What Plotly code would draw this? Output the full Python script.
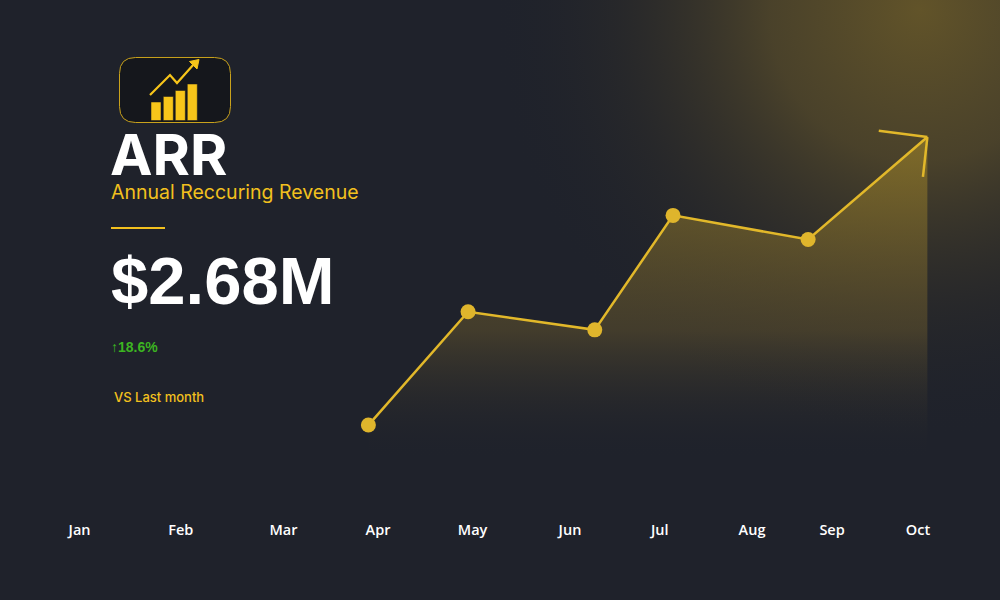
import base64
import math
import plotly.graph_objects as go

# months shown along the bottom and where each label sits (month units)
months = ["Jan", "Feb", "Mar", "Apr", "May", "Jun", "Jul", "Aug", "Sep", "Oct"]
month_pos = [0, 1.086, 2.189, 3.203, 4.218, 5.264, 6.227, 7.218, 8.077, 9.0]

# ARR points ($M) and where they fall on the month scale
point_x = [3.10, 4.17, 5.53, 6.37, 7.82, 9.10]
arr_musd = [0.29, 1.23, 1.08, 2.03, 1.83, 2.68]

headline = "$2.68M"
change_pct = 18.6

W, H = 1000, 600
BOTTOM = 82
PLOT_H = H - BOTTOM
X_SCALE = 93.16   # px per month
Y_SCALE = 120.5   # px per $M
X0_PX = 79.6      # px of month 0
Y0_PX = 460       # px of $0

BG = "#1f222b"
GOLD = "#e2b82a"
TEXT_GOLD = "#f2c01e"


def px(x, y):
    # pixel position -> paper coords
    return x / W, (PLOT_H - y) / PLOT_H


fig = go.Figure()

# soft glow in the top right corner
svg = (
    '<svg xmlns="http://www.w3.org/2000/svg" width="1000" height="600">'
    '<defs><radialGradient id="g" cx="920" cy="10" r="430" gradientUnits="userSpaceOnUse">'
    '<stop offset="0" stop-color="#655629" stop-opacity="0.95"/>'
    '<stop offset="0.35" stop-color="#584c2a" stop-opacity="0.75"/>'
    '<stop offset="0.7" stop-color="#3a3528" stop-opacity="0.3"/>'
    '<stop offset="1" stop-color="#1f222b" stop-opacity="0"/>'
    '</radialGradient></defs>'
    '<rect width="1000" height="600" fill="url(#g)"/></svg>'
)
glow_src = "data:image/svg+xml;base64," + base64.b64encode(svg.encode()).decode()
fig.add_layout_image(dict(
    source=glow_src, xref="paper", yref="paper", x=0, y=1,
    sizex=1, sizey=H / PLOT_H, xanchor="left", yanchor="top",
    sizing="stretch", layer="below",
))

# area + line
fig.add_trace(go.Scatter(
    x=point_x, y=arr_musd,
    mode="lines",
    line=dict(color=GOLD, width=2.5),
    fill="tozeroy",
    fillgradient=dict(
        type="vertical",
        start=0, stop=max(arr_musd),
        colorscale=[[0, "rgba(31,34,43,0)"], [0.4, "rgba(110,92,45,0.45)"], [1, "rgba(150,125,40,0.68)"]],
    ),
    hoverinfo="skip",
    showlegend=False,
))

# markers (all but the arrow tip)
fig.add_trace(go.Scatter(
    x=point_x[:-1], y=arr_musd[:-1],
    mode="markers",
    marker=dict(color="#dfb52c", size=15),
    text=[f"${v:.2f}M" for v in arr_musd[:-1]],
    hoverinfo="text",
    showlegend=False,
))

# open arrowhead at the last point, built from the last segment direction
tx, ty = point_x[-1], arr_musd[-1]
dx_px = (point_x[-1] - point_x[-2]) * X_SCALE
dy_px = -(arr_musd[-1] - arr_musd[-2]) * Y_SCALE
back = math.atan2(-dy_px, -dx_px)
for rot, length in [(math.radians(48), 49), (math.radians(-43), 40)]:
    a = back + rot
    ex = tx + length * math.cos(a) / X_SCALE
    ey = ty - length * math.sin(a) / Y_SCALE
    fig.add_trace(go.Scatter(
        x=[tx, ex], y=[ty, ey], mode="lines",
        line=dict(color=GOLD, width=2.5),
        hoverinfo="skip", showlegend=False,
    ))

shapes = []

# icon box with rounded corners
bx0, by0, bx1, by1, r = 119.5, 57.5, 230.5, 122.5, 16


def P(x, y):
    a, b = px(x, y)
    return f"{a:.5f},{b:.5f}"


box_path = (
    f"M {P(bx0 + r, by0)} L {P(bx1 - r, by0)} Q {P(bx1, by0)} {P(bx1, by0 + r)} "
    f"L {P(bx1, by1 - r)} Q {P(bx1, by1)} {P(bx1 - r, by1)} "
    f"L {P(bx0 + r, by1)} Q {P(bx0, by1)} {P(bx0, by1 - r)} "
    f"L {P(bx0, by0 + r)} Q {P(bx0, by0)} {P(bx0 + r, by0)} Z"
)
shapes.append(dict(type="path", xref="paper", yref="paper", path=box_path,
                   fillcolor="#15171c", line=dict(color="#c9a21c", width=1)))

# icon bars
for x0, top in [(151, 102), (163.3, 96.5), (175.3, 90.5), (187.3, 84)]:
    a0, b0 = px(x0, top)
    a1, b1 = px(x0 + 10, 120.5)
    shapes.append(dict(type="rect", xref="paper", yref="paper",
                       x0=a0, x1=a1, y0=b1, y1=b0,
                       fillcolor="#f7c51a", line=dict(color="#15171c", width=0.5)))

# icon trend arrow
trend = f"M {P(150, 95)} L {P(170, 75)} L {P(177, 83)} L {P(194, 64)}"
shapes.append(dict(type="path", xref="paper", yref="paper", path=trend,
                   line=dict(color="#f7c51a", width=2.2)))
head = f"M {P(199, 59.5)} L {P(189.5, 61.5)} L {P(197, 69)} Z"
shapes.append(dict(type="path", xref="paper", yref="paper", path=head,
                   fillcolor="#f7c51a", line=dict(color="#f7c51a", width=1)))

# short gold rule under the subtitle
a0, b0 = px(111, 228)
a1, _ = px(165, 228)
shapes.append(dict(type="line", xref="paper", yref="paper",
                   x0=a0, x1=a1, y0=b0, y1=b0,
                   line=dict(color=TEXT_GOLD, width=2)))


def label(text, x, y, size, color, family, box_h=None, **kw):
    a, b = px(x, y)
    fig.add_annotation(
        text=text, x=a, y=b, xref="paper", yref="paper",
        xanchor="left", yanchor="middle", showarrow=False,
        height=box_h, valign="middle",
        font=dict(size=size, color=color, family=family, **kw),
    )


label("<b>ARR</b>", 108, 154, 57, "#ffffff", "Inter", box_h=50)
label("Annual Reccuring Revenue", 109, 192, 19.5, TEXT_GOLD, "Inter")
label(f"<b>{headline}</b>", 109, 280, 67, "#ffffff", "Liberation Sans")
label(f"↑<b>{change_pct}%</b>", 109, 347, 14, "#3cb521", "Liberation Sans")
label("VS Last month", 112, 397, 13, TEXT_GOLD, "Inter", weight=500)

fig.update_layout(
    width=W, height=H,
    margin=dict(l=0, r=0, t=0, b=BOTTOM),
    paper_bgcolor=BG,
    plot_bgcolor="rgba(0,0,0,0)",
    shapes=shapes,
    xaxis=dict(
        range=[-X0_PX / X_SCALE, (W - X0_PX) / X_SCALE],
        tickvals=month_pos, ticktext=months,
        tickfont=dict(size=14.5, color="#ffffff", family="Open Sans", weight=600),
        ticklabelstandoff=1,
        showgrid=False, zeroline=False, showline=False, ticks="",
        fixedrange=True,
    ),
    yaxis=dict(
        range=[(Y0_PX - PLOT_H) / Y_SCALE, Y0_PX / Y_SCALE],
        visible=False, showgrid=False, zeroline=False, fixedrange=True,
    ),
)

fig.write_html("out.html", config={"displayModeBar": False},
               post_script="document.body.style.margin='0';")
